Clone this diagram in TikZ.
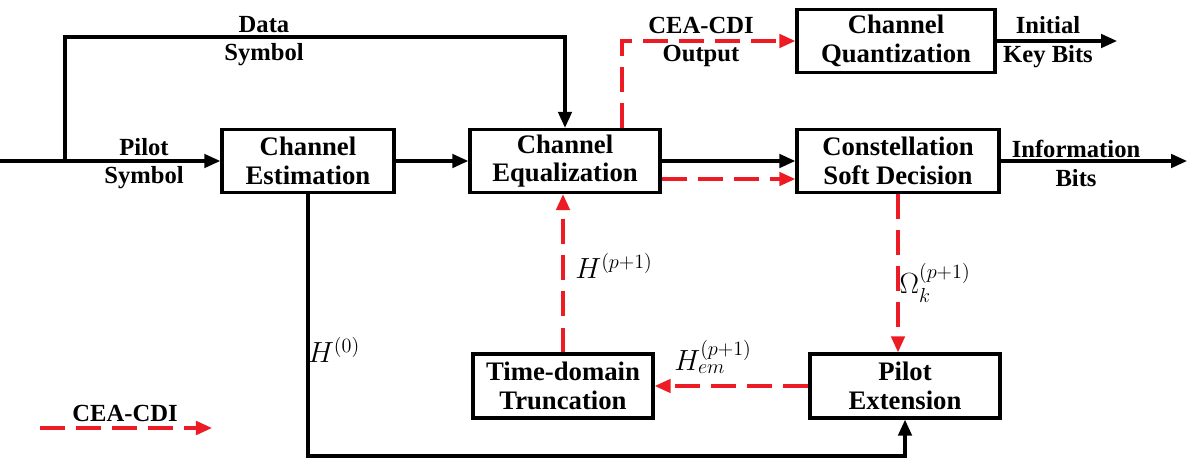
\documentclass[tikz,border=0pt]{standalone}
\usepackage{amsmath, amssymb}
\usepackage{fontspec}
\setmainfont{Liberation Serif}
\usepackage{tikz}
\usetikzlibrary{arrows.meta, positioning}
\definecolor{myred}{RGB}{237,28,36}

\begin{document}
\begin{tikzpicture}[x=0.025cm,y=-0.025cm,line width=2.2pt,
    blk/.style={draw,line width=2.4pt,minimum height=1.575cm,align=center,inner sep=0pt,
        font=\fontsize{19}{20.5}\selectfont\bfseries},
    lbl/.style={anchor=base,font=\fontsize{17.5}{19}\selectfont\bfseries},
    mlbl/.style={font=\fontsize{21}{22}\selectfont},
    arr/.style={-{Triangle[length=0.4cm,width=0.34cm]}},
    cdi/.style={myred,dash pattern=on 0.62cm off 0.28cm,-{Triangle[length=0.4cm,width=0.34cm]}}]
    \useasboundingbox (0,0) rectangle (1200,459);

    % Blocks
    \node[blk,minimum width=4.3cm] (est) at (308,161) {Channel\\Estimation};
    \node[blk,minimum width=4.75cm] (equ) at (565,161) {Channel\\Equalization};
    \node[blk,minimum width=4.95cm] (qua) at (896,41) {Channel\\Quantization};
    \node[blk,minimum width=5.05cm] (con) at (898,161) {Constellation\\Soft Decision};
    \node[blk,minimum width=4.5cm,minimum height=1.6cm] (trn) at (563,386) {Time-domain\\Truncation};
    \node[blk,minimum width=4.75cm,minimum height=1.6cm] (pil) at (905,386) {Pilot\\Extension};

    % Free ends
    \coordinate (in) at (0,161);
    \coordinate (split) at (65,161);
    \coordinate (dcorner) at (65,37);
    \coordinate (keyout) at (1117,41);
    \coordinate (infout) at (1187,161);
    \coordinate (bottom) at (0,456);
    \coordinate (lega) at (40,428);
    \coordinate (legb) at (212,428);

    % Pilot and data symbols
    \draw[arr] (in) -- (est);
    \draw[arr] (split) -- (dcorner) -| (equ.north);
    \node[lbl] (pilot) at (144,156) {Pilot};
    \node[lbl] (pilotsym) at (144,183) {Symbol};
    \node[lbl] (data) at (264,33) {Data};
    \node[lbl] (datasym) at (264,61) {Symbol};

    % Main chain
    \draw[arr] (est) -- (equ);
    \draw[arr] (equ) -- (con);
    \draw[cdi] ([yshift=-0.45cm]equ.east) -- ([yshift=-0.45cm]con.west);
    \draw[arr] (con) -- (infout);
    \node[lbl] (info) at (1076,158) {Information};
    \node[lbl] (bits) at (1076,186) {Bits};

    % CEA-CDI output
    \draw[cdi] ([xshift=1.425cm]equ.north) |- (qua.west);
    \node[lbl] (cdiout) at (701,34) {CEA-CDI};
    \node[lbl] (output) at (701,62) {Output};
    \draw[arr] (qua) -- (keyout);
    \node[lbl] (initial) at (1048,34) {Initial};
    \node[lbl] (keybits) at (1048,63) {Key Bits};

    % Iteration loop
    \draw[cdi] (con.south) -- (con.south |- pil.north);
    \node[mlbl] (omega) at (935,283) {$\Omega_k^{(p+1)}$};
    \draw[cdi] (pil) -- (trn);
    \node[mlbl] (hem) at (713,357) {$H_{em}^{(p+1)}$};
    \draw[cdi] (trn.north) -- (trn.north |- equ.south);
    \node[mlbl] (hp) at (614,266) {$H^{(p+1)}$};

    % Initial estimate
    \draw[arr] (est.south) -- (est.south |- bottom) -| (pil.south);
    \node[mlbl] (h0) at (334,350) {$H^{(0)}$};

    % Legend
    \draw[cdi] (lega) -- (legb);
    \node[lbl] (leg) at (125,421) {CEA-CDI};
\end{tikzpicture}
\end{document}
